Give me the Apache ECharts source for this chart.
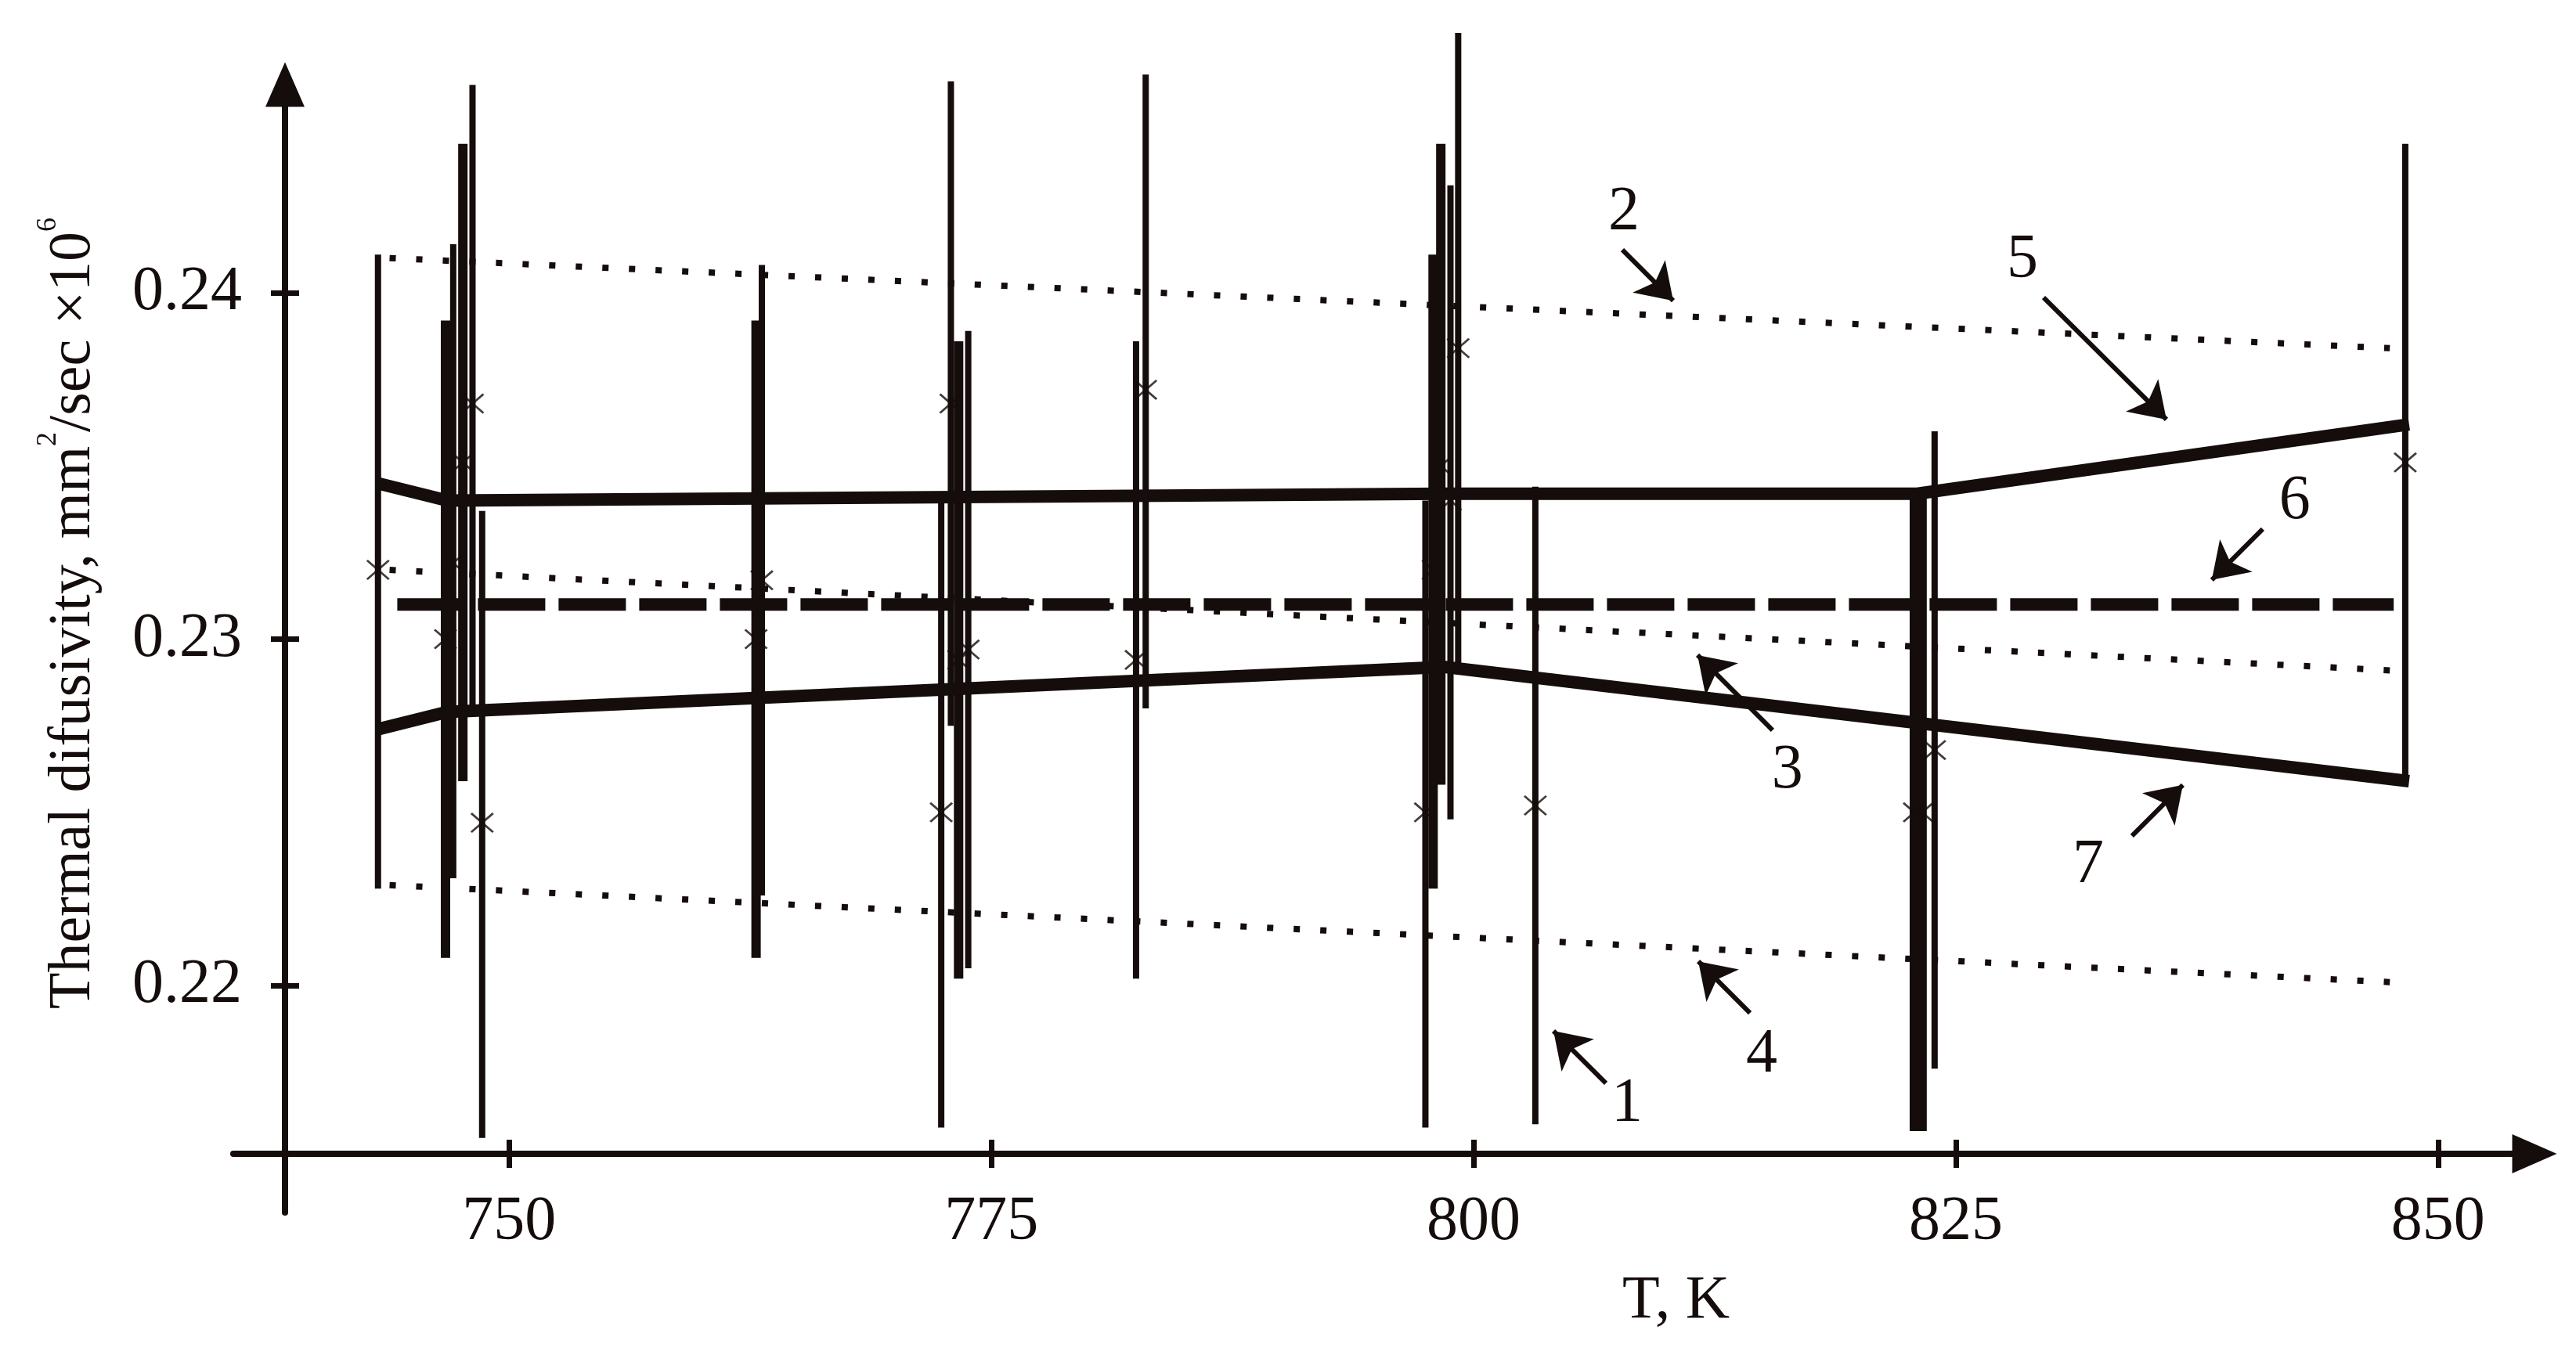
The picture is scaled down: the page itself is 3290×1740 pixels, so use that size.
<!DOCTYPE html>
<html>
<head>
<meta charset="utf-8">
<title>Thermal difusivity</title>
<script src="https://cdn.jsdelivr.net/npm/echarts@6/dist/echarts.min.js"></script>
<style>
html, body { margin: 0; padding: 0; background: #fff; }
#chart { width: 3290px; height: 1740px; }
</style>
</head>
<body>
<div id="chart"></div>
<script>
var ink = '#150d0b';
var serif = '"Liberation Serif", "Times New Roman", serif';

var xTicks = [750, 775, 800, 825, 850];
var yTicks = [0.22, 0.23, 0.24];

// 1 - measurements with their spread (thin bars)
var thinT    = [743.2, 747.1, 748.1, 748.6, 763.1, 772.4, 772.9, 773.8, 782.5, 783.0, 797.5, 798.8, 799.2, 803.2, 823.9, 848.3];
var thinMean = [0.2320, 0.2322, 0.2368, 0.2247, 0.2317, 0.2250, 0.2368, 0.2297, 0.2294, 0.2372, 0.2250, 0.2340, 0.2384, 0.2252, 0.2268, 0.2351];
var thinLow  = [0.2228, 0.2231, 0.2278, 0.2156, 0.2226, 0.2159, 0.2275, 0.2205, 0.2202, 0.2280, 0.2159, 0.2248, 0.2293, 0.2160, 0.2176, 0.2259];
var thinHigh = [0.2411, 0.2414, 0.2460, 0.2337, 0.2408, 0.2342, 0.2461, 0.2389, 0.2386, 0.2463, 0.2340, 0.2431, 0.2475, 0.2344, 0.2360, 0.2443];
// thick bars
var thickT    = [746.7, 747.6, 762.8, 773.3, 797.9, 798.3, 822.85, 823.25];
var thickMean = [0.2300, 0.2351, 0.2300, 0.2294, 0.2320, 0.2350, 0.2250, 0.2250];
var thickLow  = [0.2208, 0.2259, 0.2208, 0.2202, 0.2228, 0.2258, 0.2158, 0.2158];
var thickHigh = [0.2392, 0.2443, 0.2392, 0.2386, 0.2411, 0.2443, 0.2341, 0.2341];

// 2, 3, 4 - dotted lines
var line2T = [743.8, 847.5], line2Y = [0.2410, 0.2384];
var line3T = [743.8, 847.5], line3Y = [0.2320, 0.2291];
var line4T = [743.8, 847.5], line4Y = [0.2229, 0.2201];
// 5, 7 - solid lines
var line5T = [743.2, 746.8, 798.5, 823.0, 848.5], line5Y = [0.2345, 0.2340, 0.2342, 0.2342, 0.2362];
var line7T = [743.2, 746.8, 798.5, 848.5], line7Y = [0.2274, 0.2279, 0.2292, 0.2259];
// 6 - dashed mean
var line6T = [744.2, 847.7], line6Y = [0.2310, 0.2310];

// numbered callouts
var noteText = ['1', '2', '3', '4', '5', '6', '7'];
var noteT = [807.95, 807.79, 816.27, 814.94, 828.45, 842.57, 831.86];
var noteY = [0.21657, 0.24231, 0.22619, 0.21799, 0.24093, 0.23397, 0.22346];
var arrowFromT = [806.86, 807.71, 815.50, 814.33, 829.55, 840.91, 834.13];
var arrowFromY = [0.21718, 0.24124, 0.22737, 0.21921, 0.23986, 0.23318, 0.22432];
var arrowToT = [804.14, 810.35, 811.61, 811.65, 835.92, 838.27, 836.77];
var arrowToY = [0.21869, 0.23977, 0.22954, 0.22070, 0.23634, 0.23171, 0.22579];

function zip(a, b) {
  return a.map(function (v, i) { return [v, b[i]]; });
}

function bars(t, lo, hi) {
  return t.map(function (v, i) { return [v, lo[i], hi[i]]; });
}

function barRenderer(width) {
  return function (params, api) {
    var p1 = api.coord([api.value(0), api.value(2)]);
    var p2 = api.coord([api.value(0), api.value(1)]);
    return {
      type: 'line',
      shape: { x1: p1[0], y1: p1[1], x2: p2[0], y2: p2[1] },
      style: { stroke: ink, lineWidth: width }
    };
  };
}

var cross = 'path://M0,7L7,0L100,93L93,100Z M93,0L100,7L7,100L0,93Z';

var chart = echarts.init(document.getElementById('chart'));

var xBase = {
  type: 'value', min: 735.7, max: 855.0, position: 'bottom', offset: -75,
  splitLine: { show: false }
};
var yBase = {
  type: 'value', min: 0.21345, max: 0.24601, position: 'left', offset: -66,
  splitLine: { show: false }
};

chart.setOption({
  animation: false,
  backgroundColor: '#fff',
  grid: { left: 298, right: 53, top: 108, bottom: 191 },
  xAxis: [
    Object.assign({}, xBase, {
      axisLine: { show: true, symbol: ['none', 'triangle'], symbolSize: [50, 57], lineStyle: { color: ink, width: 8 } },
      axisTick: { show: true, inside: true, length: 18, customValues: xTicks, lineStyle: { color: ink, width: 7 } },
      axisLabel: { show: true, customValues: xTicks, margin: 48, color: ink, fontFamily: serif, fontSize: 80 },
      name: 'T, K', nameLocation: 'middle', nameGap: 150,
      nameTextStyle: { color: ink, fontFamily: serif, fontSize: 78, padding: [0, 0, 0, 746] }
    }),
    Object.assign({}, xBase, {
      axisLine: { show: false },
      axisTick: { show: true, inside: false, length: 18, customValues: xTicks, lineStyle: { color: ink, width: 7 } },
      axisLabel: { show: false }
    })
  ],
  yAxis: [
    Object.assign({}, yBase, {
      axisLine: { show: true, symbol: ['none', 'triangle'], symbolSize: [50, 57], lineStyle: { color: ink, width: 8 } },
      axisTick: { show: true, inside: true, length: 18, customValues: yTicks, lineStyle: { color: ink, width: 7 } },
      axisLabel: { show: true, customValues: yTicks, margin: 55, color: ink, fontFamily: serif, fontSize: 80 },
      name: '{a|Thermal difusivity, mm}{s|2}{a|/sec \u00d710}{s|6}',
      nameLocation: 'middle', nameRotate: 90, nameGap: 220,
      nameTextStyle: {
        color: ink, fontFamily: serif, fontSize: 76, padding: [0, 0, 0, 90],
        rich: {
          a: { color: ink, fontFamily: serif, fontSize: 76, lineHeight: 100 },
          s: { color: ink, fontFamily: serif, fontSize: 36, lineHeight: 24, verticalAlign: 'top' }
        }
      }
    }),
    Object.assign({}, yBase, {
      axisLine: { show: false },
      axisTick: { show: true, inside: false, length: 18, customValues: yTicks, lineStyle: { color: ink, width: 7 } },
      axisLabel: { show: false }
    })
  ],
  series: [
    {
      name: '2', type: 'line', data: zip(line2T, line2Y), symbol: 'none', silent: true,
      lineStyle: { color: ink, width: 8, type: [8, 26], cap: 'butt' }
    },
    {
      name: '3', type: 'line', data: zip(line3T, line3Y), symbol: 'none', silent: true,
      lineStyle: { color: ink, width: 8, type: [8, 26], cap: 'butt' }
    },
    {
      name: '4', type: 'line', data: zip(line4T, line4Y), symbol: 'none', silent: true,
      lineStyle: { color: ink, width: 8, type: [8, 26], cap: 'butt' }
    },
    {
      name: '6', type: 'line', data: zip(line6T, line6Y), symbol: 'none', silent: true,
      lineStyle: { color: ink, width: 16, type: [86, 17], cap: 'butt' }
    },
    {
      name: '5', type: 'line', data: zip(line5T, line5Y), symbol: 'none', silent: true,
      lineStyle: { color: ink, width: 16, cap: 'butt', join: 'miter' }
    },
    {
      name: '7', type: 'line', data: zip(line7T, line7Y), symbol: 'none', silent: true,
      lineStyle: { color: ink, width: 16, cap: 'butt', join: 'miter' }
    },
    {
      name: '1 thin', type: 'custom', renderItem: barRenderer(8), clip: false, silent: true,
      encode: { x: 0, y: [1, 2] }, data: bars(thinT, thinLow, thinHigh)
    },
    {
      name: '1 thick', type: 'custom', renderItem: barRenderer(12), clip: false, silent: true,
      encode: { x: 0, y: [1, 2] }, data: bars(thickT, thickLow, thickHigh)
    },
    {
      name: '1 mean', type: 'scatter', symbol: cross, symbolSize: [30, 26], silent: true,
      itemStyle: { color: ink },
      data: zip(thinT, thinMean).concat(zip(thickT, thickMean))
    },
    {
      name: 'arrows', type: 'lines', coordinateSystem: 'cartesian2d', silent: true,
      symbol: ['none', 'arrow'], symbolSize: 44,
      lineStyle: { color: ink, width: 6, opacity: 1, curveness: 0 },
      data: arrowFromT.map(function (t, i) {
        return { coords: [[t, arrowFromY[i]], [arrowToT[i], arrowToY[i]]] };
      })
    },
    {
      name: 'notes', type: 'scatter', symbol: 'circle', symbolSize: 0, silent: true,
      itemStyle: { color: ink, opacity: 1 },
      label: { show: true, position: 'inside', formatter: '{b}', color: ink, opacity: 1, fontFamily: serif, fontSize: 80 },
      data: noteText.map(function (s, i) { return { name: s, value: [noteT[i], noteY[i]] }; })
    }
  ]
});
</script>
</body>
</html>
